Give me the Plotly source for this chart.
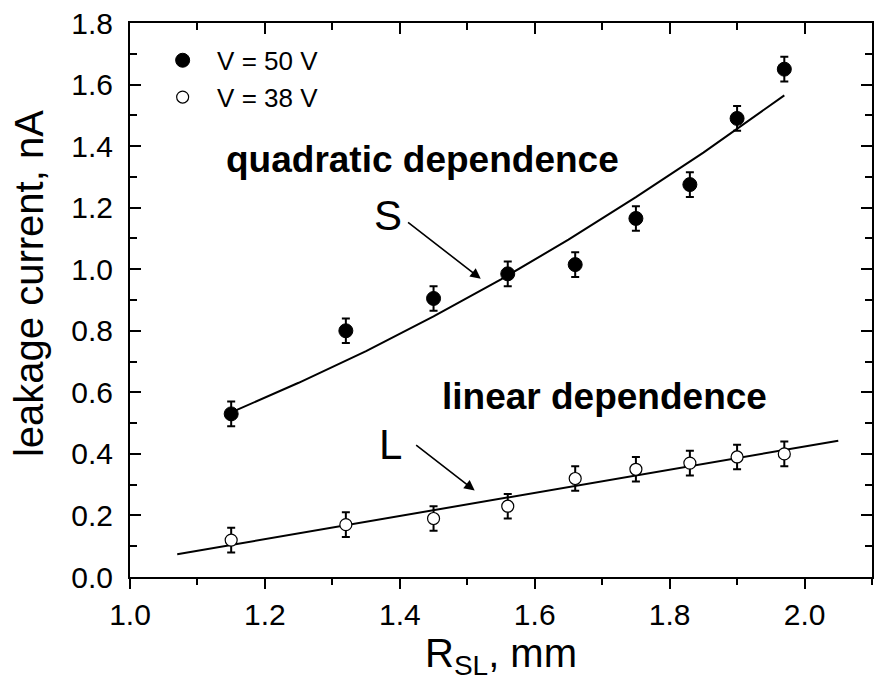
import plotly.graph_objects as go

# ---- data ----
r_sl = [1.15, 1.32, 1.45, 1.56, 1.66, 1.75, 1.83, 1.90, 1.97]
i_50v = [0.53, 0.80, 0.905, 0.985, 1.015, 1.165, 1.275, 1.49, 1.65]
i_38v = [0.12, 0.17, 0.19, 0.23, 0.32, 0.35, 0.37, 0.39, 0.40]
err_50v = [0.04] * 9
err_38v = [0.04] * 9

quad_x = [1.15, 1.25, 1.35, 1.45, 1.55, 1.65, 1.75, 1.85, 1.97]
quad_y = [0.535, 0.631, 0.734, 0.847, 0.967, 1.096, 1.234, 1.379, 1.565]
lin_x = [1.07, 2.05]
lin_y = [0.074, 0.443]

x_ticks = [1.0, 1.2, 1.4, 1.6, 1.8, 2.0]
y_ticks = [0.0, 0.2, 0.4, 0.6, 0.8, 1.0, 1.2, 1.4, 1.6, 1.8]

FONT = "Liberation Sans, Arial, sans-serif"
NB = "\u00a0"

fig = go.Figure()

fig.add_trace(go.Scatter(x=quad_x, y=quad_y, mode="lines",
                         line=dict(color="black", width=2), showlegend=False, hoverinfo="skip"))
fig.add_trace(go.Scatter(x=lin_x, y=lin_y, mode="lines",
                         line=dict(color="black", width=2), showlegend=False, hoverinfo="skip"))

fig.add_trace(go.Scatter(
    x=r_sl, y=i_50v, mode="markers", name=NB * 2 + "V = 50 V",
    marker=dict(symbol="circle", size=14, color="black", line=dict(color="black", width=1)),
    error_y=dict(type="data", array=err_50v, color="black", thickness=2, width=4),
))
fig.add_trace(go.Scatter(
    x=r_sl, y=i_38v, mode="markers", name=NB * 2 + "V = 38 V",
    marker=dict(symbol="circle", size=12, color="white", line=dict(color="black", width=1.2)),
    error_y=dict(type="data", array=err_38v, color="black", thickness=2, width=4),
))

# dummy trace for top axis
fig.add_trace(go.Scatter(x=[1.0, 2.1], y=[None, None], xaxis="x2", yaxis="y",
                         mode="lines", showlegend=False, hoverinfo="skip"))

axis_common = dict(showgrid=False, zeroline=False, showline=True, linecolor="black",
                   linewidth=2, tickcolor="black", tickwidth=2)

fig.update_layout(
    width=874, height=690,
    margin=dict(l=130, r=0, t=23, b=113),
    paper_bgcolor="white", plot_bgcolor="white",
    font=dict(family=FONT, color="black"),
    xaxis=dict(range=[1.0, 2.1], tickvals=x_ticks, ticktext=[f"{v:.1f}" for v in x_ticks],
               ticks="outside", ticklen=10,
               minor=dict(dtick=0.1, tick0=1.0, ticks="outside", ticklen=6, tickwidth=2, tickcolor="black"),
               tickfont=dict(size=30, family=FONT),
               title=dict(text="R<sub>SL</sub>, mm", font=dict(size=40, family=FONT), standoff=8),
               **axis_common),
    xaxis2=dict(range=[1.0, 2.1], overlaying="x", side="top", anchor="y",
                tickvals=x_ticks, showticklabels=False, ticks="inside", ticklen=11,
                minor=dict(dtick=0.1, tick0=1.0, ticks="inside", ticklen=7, tickwidth=2, tickcolor="black"),
                **axis_common),
    yaxis=dict(range=[0, 1.8], tickvals=y_ticks, ticktext=[f"{v:.1f}" for v in y_ticks],
               ticks="inside", ticklen=11, mirror="ticks",
               minor=dict(dtick=0.1, tick0=0, ticks="inside", ticklen=7, tickwidth=2, tickcolor="black"),
               tickfont=dict(size=30, family=FONT), ticklabelstandoff=9,
               **axis_common),
    legend=dict(x=0.044, y=0.975, xanchor="left", yanchor="top",
                font=dict(size=26, family=FONT), bgcolor="rgba(0,0,0,0)",
                tracegroupgap=0, itemsizing="trace"),
    annotations=[
        dict(x=-0.136, y=0.529, xref="paper", yref="paper", text="leakage current, nA",
             textangle=-90, showarrow=False, xanchor="center", yanchor="middle",
             font=dict(size=40, family=FONT)),
        dict(x=1.433, y=1.357, xref="x", yref="y", text="<b>quadratic dependence</b>",
             showarrow=False, font=dict(size=37, family=FONT)),
        dict(x=1.704, y=0.588, xref="x", yref="y", text="<b>linear dependence</b>",
             showarrow=False, font=dict(size=37, family=FONT)),
        dict(x=1.382, y=1.175, xref="x", yref="y", text="S", showarrow=False,
             font=dict(size=42, family=FONT)),
        dict(x=1.386, y=0.432, xref="x", yref="y", text="L", showarrow=False,
             font=dict(size=42, family=FONT)),
        dict(x=1.520, y=0.969, ax=1.410, ay=1.156, xref="x", yref="y", axref="x", ayref="y",
             text="", showarrow=True, arrowhead=2, arrowsize=1.3, arrowwidth=1.6, arrowcolor="black"),
        dict(x=1.511, y=0.281, ax=1.422, ay=0.432, xref="x", yref="y", axref="x", ayref="y",
             text="", showarrow=True, arrowhead=2, arrowsize=1.3, arrowwidth=1.6, arrowcolor="black"),
    ],
)

fig.write_html("out.html")
